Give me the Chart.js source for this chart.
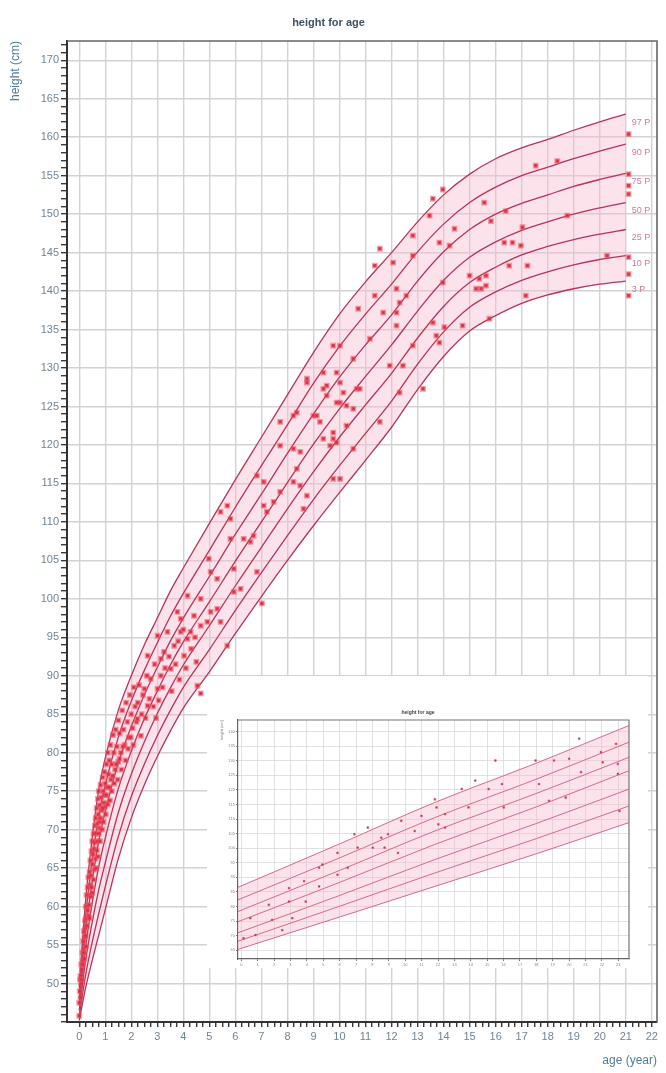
<!DOCTYPE html>
<html>
<head>
<meta charset="utf-8">
<script src="https://cdn.jsdelivr.net/npm/chart.js@4.4.1/dist/chart.umd.min.js"></script>
<style>
  html, body { margin: 0; padding: 0; background: #fff; }
  #wrap { position: relative; width: 666px; height: 1073px; }
  #main { position: absolute; left: 0; top: 0; }
  #insetBox { position: absolute; left: 207px; top: 676px; width: 441px; height: 292px; background: #fff; }
</style>
</head>
<body>
<div id="wrap">
  <canvas id="main" width="666" height="1073"></canvas>
  <div id="insetBox"><canvas id="inset" width="441" height="292"></canvas></div>
</div>
<script>
// ---- reference percentile curves (age in years, height in cm) ----
const ageYears = [0,0.25,0.5,0.75,1,1.5,2,2.5,3,3.5,4,5,6,7,8,9,10,11,12,13,14,15,16,17,18,19,20,21];
const p3  = [45.2,49.5,53.0,56.3,59.6,66.2,71.5,75.8,79.5,82.8,85.8,90.5,95.5,100.3,105.0,109.5,113.8,118.0,122.3,127.2,131.5,134.8,136.8,138.4,139.5,140.3,140.9,141.3];
const p10 = [45.8,51.2,55.4,59.1,62.6,69.1,74.3,78.5,82.2,85.5,88.5,93.4,98.5,103.4,108.2,112.9,117.3,121.5,125.7,130.5,134.7,137.9,139.9,141.4,142.5,143.4,144.1,144.6];
const p25 = [46.5,53.1,58.0,62.2,65.7,72.2,77.2,81.4,85.1,88.4,91.4,96.5,101.7,106.7,111.7,116.5,121.0,125.2,129.3,133.9,138.0,141.1,143.1,144.7,145.8,146.7,147.4,148.0];
const p50 = [47.2,54.9,60.5,65.2,68.9,75.3,80.2,84.4,88.0,91.4,94.4,99.6,104.9,110.0,115.1,120.1,124.7,128.9,133.0,137.4,141.4,144.4,146.4,147.9,149.0,150.0,150.8,151.5];
const p75 = [48.0,56.9,63.3,68.5,72.3,78.7,83.4,87.5,91.1,94.5,97.5,102.9,108.4,113.6,118.9,124.0,128.8,133.0,136.9,141.3,145.1,148.0,150.0,151.4,152.5,153.6,154.5,155.3];
const p90 = [48.7,58.9,66.1,71.8,75.8,82.0,86.7,90.7,94.3,97.7,100.7,106.3,111.9,117.3,122.6,128.0,132.8,137.0,140.9,145.1,148.7,151.5,153.5,155.0,156.1,157.2,158.2,159.1];
const p97 = [49.5,61.0,69.0,75.2,79.3,85.5,90.0,94.0,97.5,101.0,104.0,109.8,115.5,121.0,126.5,132.0,137.0,141.2,145.0,149.0,152.5,155.2,157.2,158.6,159.7,160.9,162.0,163.0];
const curveNames = ['3 P','10 P','25 P','50 P','75 P','90 P','97 P'];

// ---- measured patients: [age (years), height (cm)] ----
const visitsInfant = [
  [0.0,45.8],[0.0,47.5],[0.02,49.0],[0.03,50.5],[0.05,48.2],[0.05,51.0],[0.08,50.0],[0.08,52.5],[0.1,51.8],[0.12,54.0],
  [0.13,53.0],[0.15,55.5],[0.17,54.5],[0.18,56.8],[0.2,56.0],[0.22,58.2],[0.23,57.2],[0.25,60.0],[0.27,58.5],[0.28,61.5],
  [0.3,60.0],[0.32,62.5],[0.33,59.5],[0.35,63.8],[0.37,61.5],[0.4,64.5],[0.42,62.8],[0.43,66.0],[0.45,64.0],[0.47,67.2],
  [0.5,65.5],[0.5,68.5],[0.53,66.8],[0.55,69.5],[0.57,67.5],[0.6,70.5],[0.6,68.3],[0.63,71.5],[0.65,69.5],[0.67,72.8],
  [0.7,70.8],[0.72,74.0],[0.73,72.0],[0.75,75.0],[0.78,73.2],[0.8,71.0],[0.82,75.8],[0.85,74.2],[0.87,72.5],[0.9,76.8],
  [0.92,75.0],[0.95,73.5],[0.97,77.5],[1.0,76.0],[1.0,73.0],[1.05,78.5],[1.08,75.5],[1.1,80.0],[1.12,77.2],[1.15,79.0],
  [1.2,81.0],[1.22,76.5],[1.25,78.5],[1.3,82.3],[1.33,80.0],[1.38,77.8],[1.4,83.0],[1.45,80.8],[1.5,84.2],[1.5,78.8],
  [1.55,82.5],[1.6,80.0],[1.65,85.5],[1.7,83.0],[1.75,81.0],[1.8,86.5],[1.85,84.0],[1.9,82.0],[1.95,87.5],[2.0,85.0],
  [2.05,83.2],[2.1,88.5],[2.15,86.0],[2.2,84.0],
  [0.1,50.5],[0.14,52.5],[0.18,54.0],[0.2,53.2],[0.25,56.2],[0.26,54.8],[0.3,57.5],[0.35,58.8],[0.38,60.2],[0.4,58.5],
  [0.45,61.3],[0.48,62.5],[0.5,61.8],[0.55,63.5],[0.58,64.8],[0.62,66.2],[0.65,65.0],[0.68,67.3],[0.7,68.5],[0.72,66.5],
  [0.75,69.5],[0.78,70.2],[0.8,68.5],[0.83,71.5],[0.88,70.0],[0.9,72.8],[0.93,71.0],[0.97,74.5],[1.02,72.0],[1.05,74.5],
  [1.1,73.3],[1.15,75.5],[1.18,73.8],[1.25,75.0],[1.28,77.0],[1.35,76.0],[1.42,78.5],[1.48,76.5],[1.55,79.2],[1.62,77.8],
  [1.68,80.8],[1.78,79.0],[1.88,80.5],[1.98,82.0],[2.08,81.0]
];
const visitsChild = [
  [2.24,84.4],[2.37,82.2],[2.63,86.1],[3.01,88.3],[3.14,90.0],[3.52,90.9],[2.75,89.6],[2.5,88.3],[3.26,93.1],[3.65,93.9],
  [3.39,95.7],[3.9,97.4],[4.41,97.8],[4.92,97.0],[4.67,100.0],[4.16,100.4],[5.3,98.7],[4.54,88.7],[4.67,87.7],[3.01,95.2],
  [3.9,95.7],[4.16,94.8],[4.03,92.6],[3.14,92.2],[2.63,92.6],[5.43,97.0],[4.67,96.5],[5.05,98.3],[3.77,98.3],[4.98,105.2],
  [5.05,103.5],[5.3,102.6],[5.94,103.9],[6.2,101.3],[5.94,100.9],[6.83,103.5],[7.02,99.4],[5.43,111.3],[5.81,110.4],[5.69,112.1],
  [6.32,107.8],[6.58,107.4],[6.7,108.2],[7.09,112.1],[7.21,111.3],[7.47,112.6],[6.83,116.0],[7.09,115.2],[8.23,115.2],[8.49,114.7],
  [8.62,111.7],[7.72,119.9],[8.23,119.5],[8.49,119.1],[7.72,123.0],[8.36,124.2],[9.0,123.8],[9.51,126.4],[10.02,125.5],[10.27,125.1],
  [8.75,128.1],[9.51,127.7],[10.02,128.1],[10.66,127.3],[9.76,120.8],[9.64,119.9],[10.53,119.5],[9.76,115.6],[9.89,129.4],[10.53,131.2],
  [10.02,132.9],[9.25,123.0],[9.38,120.8],[8.36,116.9],[7.72,113.9],[4.28,95.7],[5.69,93.9],[5.81,107.8],[8.23,123.8],[9.89,120.3],
  [10.02,115.6],[8.75,113.4],
  [2.25,86.5],[2.3,88.8],[2.4,85.0],[2.45,87.5],[2.55,84.5],[2.6,90.0],[2.7,87.0],[2.85,86.0],[2.9,91.5],[2.95,84.5],
  [3.05,86.8],[3.2,88.5],[3.3,91.0],[3.45,92.5],[3.55,88.0],[3.7,91.5],[3.8,94.5],[3.85,89.5],[4.0,96.0],[4.1,91.0],
  [4.3,93.5],[4.45,95.0],[4.5,91.8]
];
const visitsTeen = [
  [8.75,128.6],[9.38,129.4],[9.76,132.9],[9.38,127.3],[9.89,125.5],[10.15,126.8],[10.53,124.7],[10.78,127.3],[9.13,123.8],[9.76,121.6],
  [10.27,122.5],[10.72,137.7],[11.17,133.8],[11.68,137.2],[11.36,139.4],[11.55,145.5],[11.36,143.3],[12.06,143.7],[12.19,140.3],[12.31,138.5],
  [12.19,137.2],[12.57,139.4],[12.19,135.5],[11.93,130.3],[12.44,130.3],[11.55,123.0],[12.31,126.8],[12.82,132.9],[13.21,127.3],[12.82,147.2],
  [12.82,144.6],[13.46,149.8],[13.59,152.0],[13.97,153.2],[13.84,146.3],[14.23,145.9],[14.42,148.1],[13.97,141.1],[13.59,135.9],[13.72,134.2],
  [13.84,133.3],[14.73,135.5],[15.0,142.0],[15.37,141.6],[15.63,140.7],[15.76,136.4],[15.63,142.0],[15.56,151.5],[15.82,149.1],[16.52,143.3],
  [16.65,146.3],[16.39,150.4],[14.03,135.3],[15.25,140.3],[15.44,140.3],[16.33,146.3],[16.97,145.9],[17.03,148.3],[17.22,143.3],[17.16,139.4],
  [17.54,156.3],[18.37,156.9],[18.75,149.8],[20.28,144.6],[21.11,160.4],[21.11,155.2],[21.11,153.7],[21.11,152.6],[21.11,144.4],[21.11,142.2],
  [21.11,139.4]
];

// ---- small detail chart ----
const insetAges = [-0.2, 6, 11.8, 18, 23.65];
const insetCurves = [
  [65.3, 76.4, 86.9, 98.1, 108.8],
  [68.1, 80.1, 91.5, 103.3, 114.5],
  [71.0, 83.8, 96.1, 108.5, 120.3],
  [74.8, 88.3, 101.3, 114.2, 126.6],
  [78.3, 92.4, 105.9, 118.8, 131.2],
  [82.3, 96.7, 110.5, 123.7, 136.4],
  [86.6, 101.5, 115.7, 129.2, 142.1]
];
const insetVisits = [
  [0.14,69.1],[0.55,76.0],[0.86,70.2],[1.68,80.6],[1.88,75.4],[2.5,71.9],[2.91,81.7],[2.91,86.3],[3.11,76.0],[3.83,88.7],
  [3.93,81.7],[4.75,93.3],[4.75,86.9],[4.95,94.4],[5.87,98.4],[5.87,90.9],[6.49,93.3],[6.9,104.8],[7.1,100.2],[7.72,107.1],
  [8.02,100.2],[8.54,103.6],[8.74,100.2],[8.95,104.8],[9.56,98.4],[9.76,109.4],[10.58,105.9],[10.99,111.1],[11.81,116.8],[11.91,114.0],
  [12.02,108.2],[12.43,111.7],[12.43,107.1],[13.45,120.3],[13.86,114.0],[14.27,123.2],[15.09,120.3],[15.5,130.1],[15.9,122.0],[16.01,114.0],
  [17.95,130.1],[18.16,122.0],[18.77,116.3],[19.08,130.1],[19.79,117.4],[20.0,130.7],[20.61,137.6],[20.72,126.1],[21.94,133.0],[22.86,135.8],
  [22.97,128.9],[22.97,125.5],[23.07,112.8],[22.05,129.5]
];

const FONT = '"Liberation Sans", Arial, Helvetica, sans-serif';
const LINE = '#b7335a';
const BAND = 'rgba(247,186,204,0.42)';
const TICK_TXT = '#6f8496';
const AXIS_TITLE = '#4c7e98';

function rangeTicks(from, to, step) {
  const out = [];
  for (let v = from; v <= to + 1e-9; v += step) out.push({ value: Math.round(v * 100) / 100 });
  return out;
}

const percentileSets = [p3, p10, p25, p50, p75, p90, p97];
const mainDatasets = [{
  label: 'patients',
  data: visitsInfant.concat(visitsChild, visitsTeen).map(([a, h]) => ({ x: a, y: h })),
  showLine: false,
  pointStyle: 'rect',
  pointRadius: 2.4,
  backgroundColor: 'rgba(196,30,48,0.95)',
  borderColor: 'rgba(238,80,96,0.55)',
  borderWidth: 2.4,
  order: 0
}];
percentileSets.forEach((arr, i) => {
  mainDatasets.push({
    label: curveNames[i],
    curveName: curveNames[i],
    data: ageYears.map((a, k) => ({ x: a, y: arr[k] })),
    showLine: true,
    pointRadius: 0,
    borderColor: LINE,
    borderWidth: 1.3,
    cubicInterpolationMode: 'monotone',
    fill: i === 6 ? 1 : false,
    backgroundColor: BAND,
    order: 1
  });
});

const curveLabels = {
  id: 'curveLabels',
  afterDatasetsDraw(chart) {
    const ctx = chart.ctx;
    ctx.save();
    ctx.font = '9px ' + FONT;
    ctx.fillStyle = '#c97c98';
    ctx.textBaseline = 'middle';
    chart.data.datasets.forEach((ds, i) => {
      if (!ds.curveName) return;
      const pts = chart.getDatasetMeta(i).data;
      const end = pts[pts.length - 1];
      ctx.fillText(ds.curveName, end.x + 6, end.y + 8);
    });
    ctx.restore();
  }
};

const frame = {
  id: 'frame',
  afterDraw(chart, args, opts) {
    const { ctx, chartArea: a } = chart;
    ctx.save();
    ctx.strokeStyle = opts.color;
    ctx.lineWidth = opts.width;
    ctx.beginPath();
    ctx.moveTo(a.left, a.top);
    ctx.lineTo(a.right, a.top);
    ctx.lineTo(a.right, a.bottom);
    ctx.stroke();
    ctx.restore();
  }
};

new Chart(document.getElementById('main'), {
  type: 'scatter',
  data: { datasets: mainDatasets },
  plugins: [curveLabels, frame],
  options: {
    responsive: false,
    animation: false,
    events: [],
    layout: { padding: { left: 0, right: 9, top: 0, bottom: 0 } },
    plugins: {
      legend: { display: false },
      tooltip: { enabled: false },
      frame: { color: '#666', width: 1.6 },
      title: {
        display: true,
        text: 'height for age',
        color: '#3f5162',
        font: { family: FONT, size: 11, weight: 'bold' },
        padding: { top: 16, bottom: 11.8 }
      }
    },
    scales: {
      x: {
        type: 'linear',
        min: -0.47,
        max: 22.2,
        afterBuildTicks: s => { s.ticks = rangeTicks(0, 22, 0.25); },
        afterFit: s => { s.height = 51; },
        grid: {
          color: c => Number.isInteger(c.tick.value) ? '#d2d2d2' : 'rgba(0,0,0,0)',
          lineWidth: 1.4,
          tickColor: '#3a3a3a',
          tickLength: 5
        },
        border: { display: true, color: '#333', width: 2 },
        ticks: {
          autoSkip: false,
          maxRotation: 0,
          padding: 3,
          color: TICK_TXT,
          font: { family: FONT, size: 11 },
          callback: v => Number.isInteger(v) ? String(v) : ''
        },
        title: {
          display: true,
          text: 'age (year)',
          align: 'end',
          color: AXIS_TITLE,
          font: { family: FONT, size: 12 },
          padding: { top: 2, bottom: 5 }
        }
      },
      y: {
        type: 'linear',
        min: 45,
        max: 172.5,
        afterBuildTicks: s => { s.ticks = rangeTicks(45, 172, 1); },
        afterFit: s => { s.width = 67; },
        grid: {
          color: c => (c.tick.value % 5 === 0) ? '#d2d2d2' : 'rgba(0,0,0,0)',
          lineWidth: 1.4,
          tickColor: '#3a3a3a',
          tickLength: 6
        },
        border: { display: true, color: '#333', width: 2 },
        ticks: {
          autoSkip: false,
          padding: 2,
          color: TICK_TXT,
          font: { family: FONT, size: 11 },
          callback: v => (v % 5 === 0 && v >= 50) ? String(v) : ''
        },
        title: {
          display: true,
          text: 'height (cm)',
          align: 'end',
          color: AXIS_TITLE,
          font: { family: FONT, size: 12 },
          padding: { top: 8, bottom: 0 }
        }
      }
    }
  }
});

// ---- detail chart drawn in the white box ----
const insetDatasets = [{
  label: 'patients',
  data: insetVisits.map(([a, h]) => ({ x: a, y: h })),
  showLine: false,
  pointStyle: 'rect',
  pointRadius: 1.2,
  backgroundColor: '#a8303f',
  borderColor: 'rgba(220,80,95,0.7)',
  borderWidth: 0.8,
  order: 0
}];
insetCurves.forEach((arr, i) => {
  insetDatasets.push({
    label: curveNames[i],
    data: insetAges.map((a, k) => ({ x: a, y: arr[k] })),
    showLine: true,
    pointRadius: 0,
    borderColor: '#d26a86',
    borderWidth: 1,
    cubicInterpolationMode: 'monotone',
    fill: i === 6 ? 1 : false,
    backgroundColor: 'rgba(247,186,204,0.42)',
    order: 1
  });
});

new Chart(document.getElementById('inset'), {
  type: 'scatter',
  data: { datasets: insetDatasets },
  plugins: [frame],
  options: {
    responsive: false,
    animation: false,
    events: [],
    layout: { padding: { left: 0, right: 19, top: 0, bottom: 0 } },
    plugins: {
      legend: { display: false },
      tooltip: { enabled: false },
      frame: { color: '#777', width: 1.2 },
      title: {
        display: true,
        text: 'height for age',
        color: '#444',
        font: { family: FONT, size: 5, weight: 'bold' },
        padding: { top: 34, bottom: 4 }
      }
    },
    scales: {
      x: {
        type: 'linear',
        min: -0.2,
        max: 23.65,
        afterBuildTicks: s => { s.ticks = rangeTicks(0, 23, 1); },
        afterFit: s => { s.height = 9; },
        grid: { color: '#d9d9d9', lineWidth: 0.8, tickColor: '#555', tickLength: 2 },
        border: { display: true, color: '#666', width: 1.2 },
        ticks: { autoSkip: false, maxRotation: 0, padding: 1, color: '#888', font: { family: FONT, size: 4 } }
      },
      y: {
        type: 'linear',
        min: 62,
        max: 144,
        afterBuildTicks: s => { s.ticks = rangeTicks(65, 140, 5); },
        afterFit: s => { s.width = 31; },
        grid: { color: '#d9d9d9', lineWidth: 0.8, tickColor: '#555', tickLength: 2 },
        border: { display: true, color: '#666', width: 1.2 },
        ticks: { autoSkip: false, padding: 1, color: '#888', font: { family: FONT, size: 4 } },
        title: {
          display: true,
          text: 'height (cm)',
          align: 'end',
          color: '#777',
          font: { family: FONT, size: 4 },
          padding: { top: 12, bottom: 0 }
        }
      }
    }
  }
});
</script>
</body>
</html>
